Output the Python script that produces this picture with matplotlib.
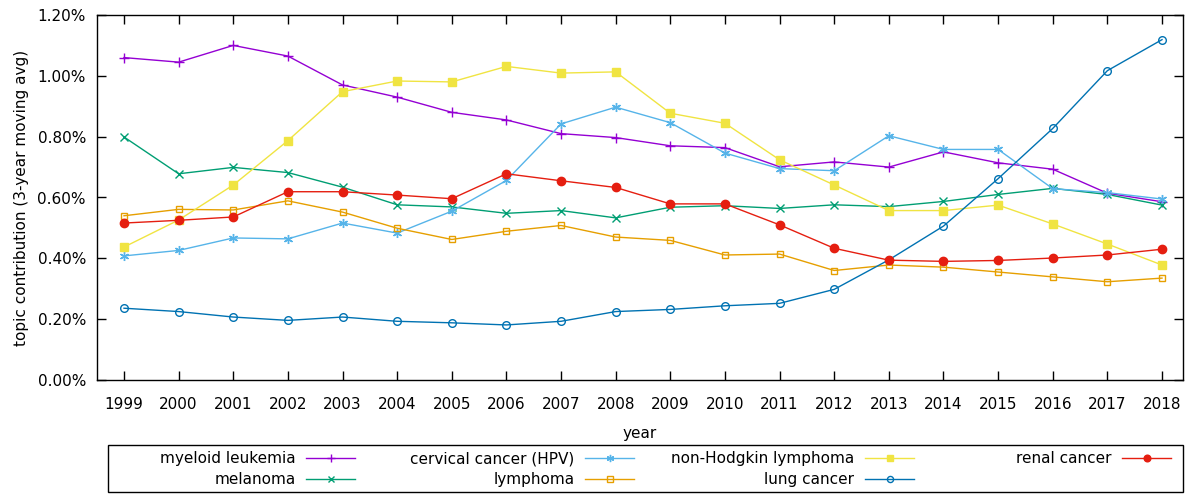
import matplotlib.pyplot as plt
from matplotlib.patches import Rectangle
from matplotlib.ticker import FuncFormatter

years = list(range(1999, 2019))

myeloid_leukemia = [1.060, 1.045, 1.100, 1.065, 0.970, 0.930, 0.880, 0.855, 0.810, 0.797,
                    0.770, 0.764, 0.701, 0.717, 0.700, 0.750, 0.714, 0.693, 0.614, 0.586]
melanoma = [0.799, 0.678, 0.699, 0.682, 0.634, 0.576, 0.569, 0.548, 0.557, 0.533,
            0.568, 0.573, 0.564, 0.576, 0.570, 0.587, 0.610, 0.630, 0.610, 0.575]
cervical_hpv = [0.408, 0.426, 0.467, 0.464, 0.516, 0.483, 0.555, 0.656, 0.842, 0.897,
                0.846, 0.746, 0.695, 0.688, 0.803, 0.758, 0.758, 0.629, 0.616, 0.595]
lymphoma = [0.540, 0.561, 0.559, 0.589, 0.552, 0.499, 0.462, 0.489, 0.508, 0.470,
            0.459, 0.411, 0.414, 0.360, 0.378, 0.371, 0.355, 0.339, 0.323, 0.335]
non_hodgkin = [0.437, 0.526, 0.641, 0.787, 0.948, 0.983, 0.980, 1.031, 1.009, 1.013,
               0.877, 0.844, 0.724, 0.641, 0.557, 0.557, 0.575, 0.513, 0.447, 0.378]
lung_cancer = [0.236, 0.225, 0.207, 0.196, 0.207, 0.193, 0.188, 0.181, 0.193, 0.225,
               0.232, 0.244, 0.252, 0.298, 0.395, 0.506, 0.662, 0.827, 1.017, 1.119]
renal_cancer = [0.516, 0.525, 0.536, 0.619, 0.619, 0.608, 0.596, 0.678, 0.655, 0.633,
                0.579, 0.579, 0.510, 0.433, 0.394, 0.390, 0.393, 0.401, 0.411, 0.430]

# name, values, colour, marker, size, filled
series = [
    ('myeloid leukemia', myeloid_leukemia, '#9400d3', '+', 7, True),
    ('melanoma', melanoma, '#009e73', 'x', 5.5, True),
    ('cervical cancer (HPV)', cervical_hpv, '#56b4e9', (6, 2, 0), 6.5, True),
    ('lymphoma', lymphoma, '#e69f00', 's', 5, False),
    ('non-Hodgkin lymphoma', non_hodgkin, '#f0e442', 's', 5.5, True),
    ('lung cancer', lung_cancer, '#0072b2', 'o', 5.5, False),
    ('renal cancer', renal_cancer, '#e51e10', 'o', 6, True),
]

plt.rcParams['font.family'] = 'DejaVu Sans'
plt.rcParams['font.size'] = 11

W, H = 1193, 494
fig = plt.figure(figsize=(W / 100, H / 100), dpi=100)
ax = fig.add_axes([97 / W, 114 / H, 1086 / W, 365 / H])

lines = []
for name, vals, col, mk, ms, filled in series:
    ln, = ax.plot(years, vals, color=col, lw=1.0, marker=mk, markersize=ms,
                  markerfacecolor=col if filled else 'none', markeredgecolor=col,
                  markeredgewidth=1.0, label=name)
    lines.append(ln)

ax.set_xlim(1998.506, 2018.384)
ax.set_ylim(0, 1.2)
ax.set_xticks(years)
ax.set_yticks([0, 0.2, 0.4, 0.6, 0.8, 1.0, 1.2])
ax.yaxis.set_major_formatter(FuncFormatter(lambda v, p: f'{v:.2f}%'))
ax.tick_params(direction='in', length=6.5, width=1, top=True, right=True,
               labelsize=11, pad=8)
ax.tick_params(axis='x', pad=12)
for s in ax.spines.values():
    s.set_linewidth(1.0)

ax.set_xlabel('year', fontsize=11, labelpad=10)
ax.set_ylabel('topic contribution (3-year moving avg)', fontsize=11, labelpad=6)

# legend box below the plot, gnuplot style: 4 columns, text right-aligned before sample
fig.patches.append(Rectangle((108 / W, 2 / H), 1075 / W, 47 / H, transform=fig.transFigure,
                             fill=False, edgecolor='black', linewidth=1.0))
col_right = [355, 634, 914, 1171]
for c in range(4):
    hs = lines[2 * c:2 * c + 2]
    leg = fig.legend(handles=hs, labels=[h.get_label() for h in hs], markerfirst=False,
                     loc='upper right', bbox_to_anchor=(col_right[c] / W, 1 - 451 / H),
                     frameon=False, handlelength=3.2, handletextpad=0.7,
                     labelspacing=0.42, borderpad=0, borderaxespad=0, fontsize=11,
                     markerscale=0.8)

plt.savefig('out.png', dpi=100)
